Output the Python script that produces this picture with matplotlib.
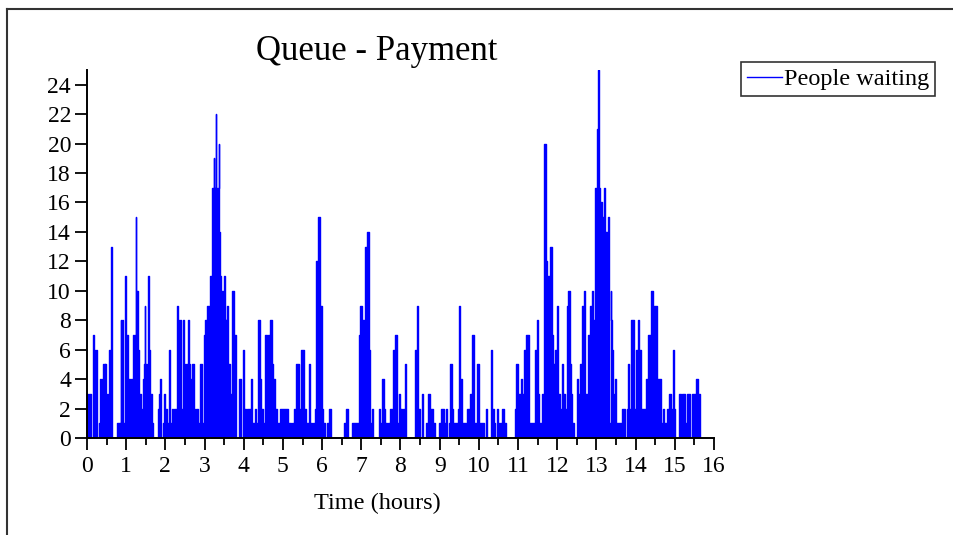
import matplotlib
matplotlib.use("Agg")
import matplotlib.pyplot as plt
from matplotlib.lines import Line2D
from matplotlib.ticker import MultipleLocator

plt.rcParams['font.family'] = ['Liberation Serif', 'DejaVu Serif']

# queue length over the day (step changes)
hours = [
    0.00, 0.01, 0.03, 0.06, 0.09, 0.16, 0.18, 0.21, 0.23, 0.25, 0.31, 0.34, 0.36, 0.38, 0.42, 0.45,
    0.47, 0.49, 0.52, 0.54, 0.56, 0.59, 0.60, 0.63, 0.77, 0.86, 0.88, 0.89, 0.92, 0.97, 0.99,
    1.00, 1.03, 1.05, 1.08, 1.10, 1.12, 1.15, 1.18, 1.21, 1.23, 1.24, 1.26, 1.27, 1.30, 1.32, 1.35,
    1.37, 1.40, 1.43, 1.45, 1.47, 1.49, 1.51, 1.53, 1.56, 1.58, 1.62, 1.65, 1.69, 1.80, 1.83, 1.84,
    1.86, 1.88, 1.93, 1.96, 1.98,
    2.01, 2.04, 2.08, 2.10, 2.12, 2.16, 2.19, 2.22, 2.26, 2.30, 2.33, 2.35, 2.38, 2.41, 2.44, 2.47,
    2.50, 2.53, 2.56, 2.58, 2.61, 2.63, 2.65, 2.69, 2.72, 2.75, 2.79, 2.82, 2.89, 2.94, 2.99,
    3.02, 3.06, 3.11, 3.13, 3.15, 3.19, 3.21, 3.23, 3.25, 3.26, 3.28, 3.30, 3.32, 3.34, 3.36, 3.38,
    3.40, 3.43, 3.45, 3.47, 3.50, 3.52, 3.53, 3.56, 3.58, 3.61, 3.64, 3.70, 3.75, 3.79, 3.87, 3.92,
    3.97,
    4.01, 4.05, 4.09, 4.18, 4.22, 4.28, 4.32, 4.37, 4.41, 4.45, 4.49, 4.54, 4.60, 4.63, 4.66, 4.71,
    4.75, 4.81, 4.86, 4.88, 4.93,
    5.00, 5.13, 5.20, 5.23, 5.28, 5.30, 5.33, 5.40, 5.47, 5.55, 5.60, 5.66, 5.70, 5.75, 5.77, 5.81,
    5.84, 5.89, 5.94, 5.99,
    6.02, 6.08, 6.12, 6.18, 6.23, 6.55, 6.60, 6.66, 6.76, 6.93, 6.97, 7.02, 7.06, 7.10, 7.14, 7.19,
    7.23, 7.27,
    7.31, 7.44, 7.48, 7.53, 7.57, 7.61, 7.66, 7.68, 7.73, 7.78, 7.82, 7.87, 7.92, 7.95, 7.98,
    8.00, 8.04, 8.07, 8.11, 8.15, 8.37, 8.41, 8.45, 8.49, 8.54, 8.58, 8.65, 8.70, 8.75, 8.82, 8.88,
    8.99,
    9.03, 9.10, 9.16, 9.19, 9.24, 9.27, 9.31, 9.35, 9.47, 9.50, 9.53, 9.57, 9.67, 9.70, 9.77, 9.83,
    9.87, 9.92, 9.96,
    10.00, 10.13, 10.18, 10.21, 10.31, 10.34, 10.38, 10.41, 10.45, 10.49, 10.52, 10.54, 10.60, 10.64,
    10.69, 10.92, 10.94, 10.96, 11.00,
    11.03, 11.07, 11.11, 11.15, 11.20, 11.29, 11.43, 11.48, 11.50, 11.54, 11.60, 11.65, 11.67, 11.71,
    11.74, 11.77, 11.81, 11.86, 11.88, 11.90, 11.95, 11.99,
    12.03, 12.07, 12.11, 12.15, 12.20, 12.24, 12.28, 12.33, 12.35, 12.37, 12.44, 12.50, 12.54, 12.58,
    12.62, 12.67, 12.71, 12.79, 12.84, 12.88, 12.92, 12.96,
    13.01, 13.05, 13.07, 13.09, 13.11, 13.13, 13.16, 13.19, 13.21, 13.23, 13.26, 13.29, 13.31, 13.33,
    13.36, 13.38, 13.40, 13.42, 13.46, 13.48, 13.50, 13.66, 13.72, 13.77, 13.80, 13.84, 13.89, 13.96,
    14.02, 14.06, 14.09, 14.13, 14.27, 14.31, 14.40, 14.45, 14.48, 14.55, 14.64, 14.69, 14.72, 14.81,
    14.85, 14.89, 14.95, 14.98, 15.01, 15.11, 15.16, 15.19, 15.27, 15.32, 15.38, 15.43, 15.54, 15.59,
    15.64,
]
waiting = [
    1, 3, 1, 3, 0, 7, 6, 3, 6, 0, 1, 4, 2, 4, 5, 3,
    5, 3, 1, 3, 6, 2, 13, 0, 1, 8, 1, 8, 1, 11, 1,
    6, 7, 3, 4, 1, 4, 2, 7, 6, 7, 15, 3, 10, 6, 1, 3,
    1, 2, 4, 5, 9, 5, 3, 5, 11, 6, 3, 1, 0, 2, 1, 3,
    4, 0, 1, 3, 1,
    2, 1, 5, 6, 1, 2, 1, 2, 1, 9, 8, 2, 8, 2, 8, 5,
    2, 5, 2, 8, 5, 2, 4, 5, 2, 1, 2, 1, 5, 1, 7,
    8, 9, 1, 0, 11, 17, 14, 19, 14, 17, 22, 17, 12, 17, 20, 14,
    11, 8, 10, 4, 11, 6, 8, 4, 9, 5, 3, 10, 7, 0, 4, 0,
    6,
    2, 0, 2, 4, 1, 2, 1, 8, 4, 2, 1, 7, 2, 7, 8, 5,
    4, 2, 0, 1, 2,
    2, 1, 0, 1, 2, 1, 5, 2, 6, 2, 1, 5, 1, 0, 1, 2,
    12, 15, 9, 2,
    1, 0, 1, 2, 0, 1, 2, 0, 1, 7, 9, 8, 6, 13, 14, 6,
    1, 2,
    0, 2, 1, 4, 2, 1, 0, 1, 2, 0, 6, 7, 1, 3, 1,
    2, 1, 2, 5, 0, 6, 9, 2, 0, 3, 0, 1, 3, 2, 1, 0,
    1,
    2, 1, 2, 0, 1, 5, 2, 1, 2, 9, 4, 1, 0, 2, 3, 7,
    1, 0, 5,
    1, 0, 2, 0, 6, 2, 1, 0, 2, 1, 0, 1, 2, 1,
    0, 2, 1, 5, 2,
    3, 4, 3, 6, 7, 1, 6, 8, 3, 1, 3, 17, 20, 12,
    8, 11, 13, 7, 3, 5, 6, 9,
    3, 2, 5, 3, 2, 9, 10, 5, 3, 1, 0, 4, 3, 5,
    9, 10, 3, 7, 9, 10, 8, 17,
    21, 25, 17, 8, 16, 12, 15, 17, 10, 14, 3, 15, 10, 1,
    10, 8, 6, 2, 3, 4, 1, 2, 0, 2, 5, 2, 8, 2,
    6, 8, 6, 2, 4, 7, 10, 4, 9, 4, 1, 2, 1, 2,
    3, 2, 6, 2, 0, 3, 1, 3, 1, 3, 0, 3, 4, 3,
    0,
]
assert len(hours) == len(waiting)

W, H = 954, 535
fig = plt.figure(figsize=(W / 100, H / 100), dpi=100)

# window frame (top and left edges only)
fig.add_artist(Line2D([7 / W, 7 / W], [0, 1 - 9 / H], color='#333333', lw=1.5, transform=fig.transFigure))
fig.add_artist(Line2D([7 / W, 1], [1 - 9 / H, 1 - 9 / H], color='#333333', lw=1.5, transform=fig.transFigure))

ax = fig.add_axes([87 / W, 1 - 438 / H, (714 - 87) / W, (438 - 70) / H])
ax.fill_between(hours, waiting, step='post', color='#0000ff', lw=0)
line, = ax.step(hours, waiting, where='post', color='#0000ff', lw=1.0, label='People waiting')

ax.set_xlim(0, 16)
ax.set_ylim(0, 25)
ax.xaxis.set_major_locator(MultipleLocator(1))
ax.xaxis.set_minor_locator(MultipleLocator(0.5))
ax.yaxis.set_major_locator(MultipleLocator(2))
ax.spines['top'].set_visible(False)
ax.spines['right'].set_visible(False)
for s in ('left', 'bottom'):
    ax.spines[s].set_linewidth(1.4)
ax.tick_params(axis='x', which='major', length=8.5, width=1.3, labelsize=17, pad=4.5)
ax.tick_params(axis='x', which='minor', length=5, width=1.3)
ax.tick_params(axis='y', which='major', length=8.5, width=1.3, labelsize=17, pad=3)

fig.text(377 / W, 1 - 60 / H, 'Queue - Payment', fontsize=25, ha='center', va='baseline')
fig.text(377 / W, 1 - 509 / H, 'Time (hours)', fontsize=17.5, ha='center', va='baseline')

leg = fig.legend(handles=[line], loc='upper left', bbox_to_anchor=(741 / W, 1 - 62 / H),
                 fontsize=17.5, frameon=True, fancybox=False, borderpad=0.25,
                 handlelength=1.45, handletextpad=0.05, borderaxespad=0)
leg.get_frame().set_edgecolor('black')
leg.get_frame().set_linewidth(1.2)

fig.savefig('out.png', dpi=100)
